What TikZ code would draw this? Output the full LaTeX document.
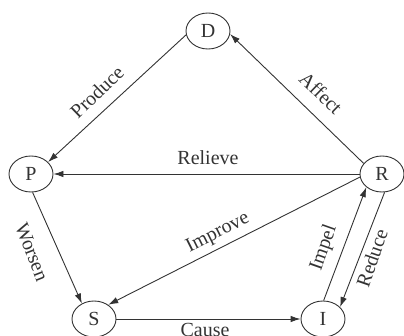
\documentclass[tikz,border=0pt]{standalone}
\usepackage{fontspec}
\setmainfont{Liberation Serif}
\usetikzlibrary{shapes.geometric,arrows.meta}
\begin{document}
\begin{tikzpicture}[x=1pt,y=-1pt,
  font=\fontsize{20}{24}\selectfont,
  state/.style={ellipse,draw=black!80,line width=0.9pt,minimum width=44pt,minimum height=36pt,inner sep=0pt,text=black!80},
  lbl/.style={text=black!80,inner sep=0pt},
  conn/.style={draw=black!80,line width=0.9pt,-{Latex[length=10pt,width=6.5pt]}}]
\useasboundingbox (0,0) rectangle (404,336);
\node[state] (D) at (208,31) {D};
\node[state] (P) at (31,174) {P};
\node[state] (R) at (382,174) {R};
\node[state] (S) at (94,319) {S};
\node[state] (I) at (323,319) {I};
\draw[conn] (D.190) -- (P.35);
\draw[conn] (R.150) -- (D.-8);
\draw[conn] (R.west) -- (P.east);
\draw[conn] (P.-85) -- (S.128);
\draw[conn] (R.188) -- (S.45);
\draw[conn] (S.east) -- (I.west);
\draw[conn] (I.88) -- (R.220);
\draw[conn] (R.-82) -- (I.35);
\node[lbl,rotate=44] (lp) at (97,92) {Produce};
\node[lbl,rotate=-44] (la) at (321,93) {Affect};
\node[lbl] (lr) at (208,158) {Relieve};
\node[lbl,rotate=26.6] (li) at (218,233) {Improve};
\node[lbl,rotate=-68.6] (lw) at (32,252) {Worsen};
\node[lbl,rotate=70.5] (lim) at (324,248) {Impel};
\node[lbl,rotate=71] (lre) at (372,258) {Reduce};
\node[lbl] (lc) at (205,330) {Cause};
\end{tikzpicture}
\end{document}
